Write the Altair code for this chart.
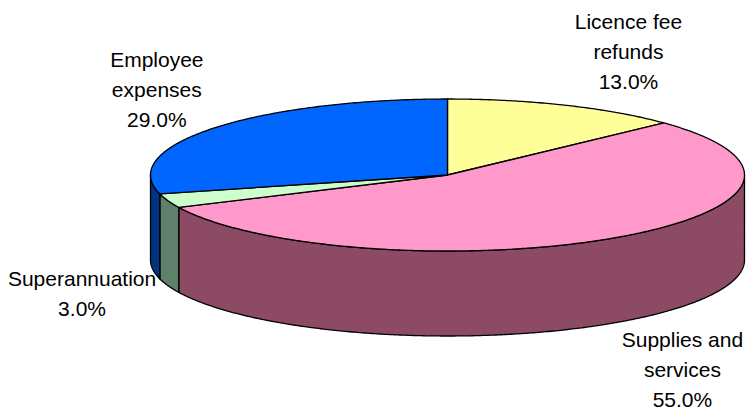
import math
import altair as alt

# ---- data ----
categories = ["Licence fee refunds", "Supplies and services", "Superannuation", "Employee expenses"]
label_text = ["Licence fee\nrefunds", "Supplies and\nservices", "Superannuation", "Employee\nexpenses"]
shares = [13.0, 55.0, 3.0, 29.0]
top_colors = ["#FFFF99", "#FF99CC", "#CCFFCC", "#0066FF"]
side_colors = ["#80804D", "#8C4A64", "#5F806A", "#003380"]

# ---- layout (pixels) ----
CX, CY, RX, RY, DEPTH = 447.5, 175.0, 297.0, 76.0, 85.0
label_offsets = [(63, -76), (68, 24), (-86, 0), (-56, -61)]


def pt(deg, drop=0.0):
    r = math.radians(deg)
    return [CX + RX * math.sin(r), CY - RY * math.cos(r) + drop]


def arc(a0, a1, drop=0.0):
    n = max(2, int(abs(a1 - a0) / 0.5) + 1)
    return [pt(a0 + (a1 - a0) * i / (n - 1), drop) for i in range(n)]


total = sum(shares)
bounds = []
acc = 0.0
for v in shares:
    a0 = acc / total * 360.0
    acc += v
    a1 = acc / total * 360.0
    bounds.append((a0, a1))

side_features = []
top_features = []
labels = []
for i, (a0, a1) in enumerate(bounds):
    lo, hi = max(a0, 90.0), min(a1, 270.0)
    if lo < hi:
        ring = arc(lo, hi) + arc(hi, lo, DEPTH)
        ring.append(ring[0])
        side_features.append({
            "type": "Feature",
            "properties": {"fill": side_colors[i], "name": categories[i]},
            "geometry": {"type": "Polygon", "coordinates": [ring]},
        })
    ring = [[CX, CY]] + arc(a0, a1) + [[CX, CY]]
    top_features.append({
        "type": "Feature",
        "properties": {"fill": top_colors[i], "name": categories[i]},
        "geometry": {"type": "Polygon", "coordinates": [ring]},
    })
    mid = (a0 + a1) / 2.0
    front = 90.0 < mid < 270.0
    px, py = pt(mid, DEPTH if front else 0.0)
    dx, dy = label_offsets[i]
    labels.append({
        "lon": px + dx,
        "lat": py + dy,
        "text": f"{label_text[i]}\n{shares[i]:.1f}%",
    })

proj = alt.Projection(type="identity", scale=1, translate=[0, 0])

sides = alt.Chart(
    alt.Data(values={"type": "FeatureCollection", "features": side_features},
             format=alt.DataFormat(property="features", type="json"))
).mark_geoshape(stroke="black", strokeWidth=1.3).encode(
    color=alt.Color("properties.fill:N", scale=None)
).project(**proj.to_dict())

tops = alt.Chart(
    alt.Data(values={"type": "FeatureCollection", "features": top_features},
             format=alt.DataFormat(property="features", type="json"))
).mark_geoshape(stroke="black", strokeWidth=1.3).encode(
    color=alt.Color("properties.fill:N", scale=None)
).project(**proj.to_dict())

text = alt.Chart(alt.Data(values=labels)).mark_text(
    font="Liberation Sans", fontSize=21, color="black", align="center",
    baseline="alphabetic", lineBreak="\n", lineHeight=30
).encode(
    longitude="lon:Q", latitude="lat:Q", text="text:N"
).project(**proj.to_dict())

chart = alt.layer(sides, tops, text).properties(
    width=747, height=411, padding=0,
    autosize=alt.AutoSizeParams(type="none"),
).configure_view(stroke=None).configure(background="white")

chart.save("out.html", embed_options={"renderer": "svg", "actions": False})
